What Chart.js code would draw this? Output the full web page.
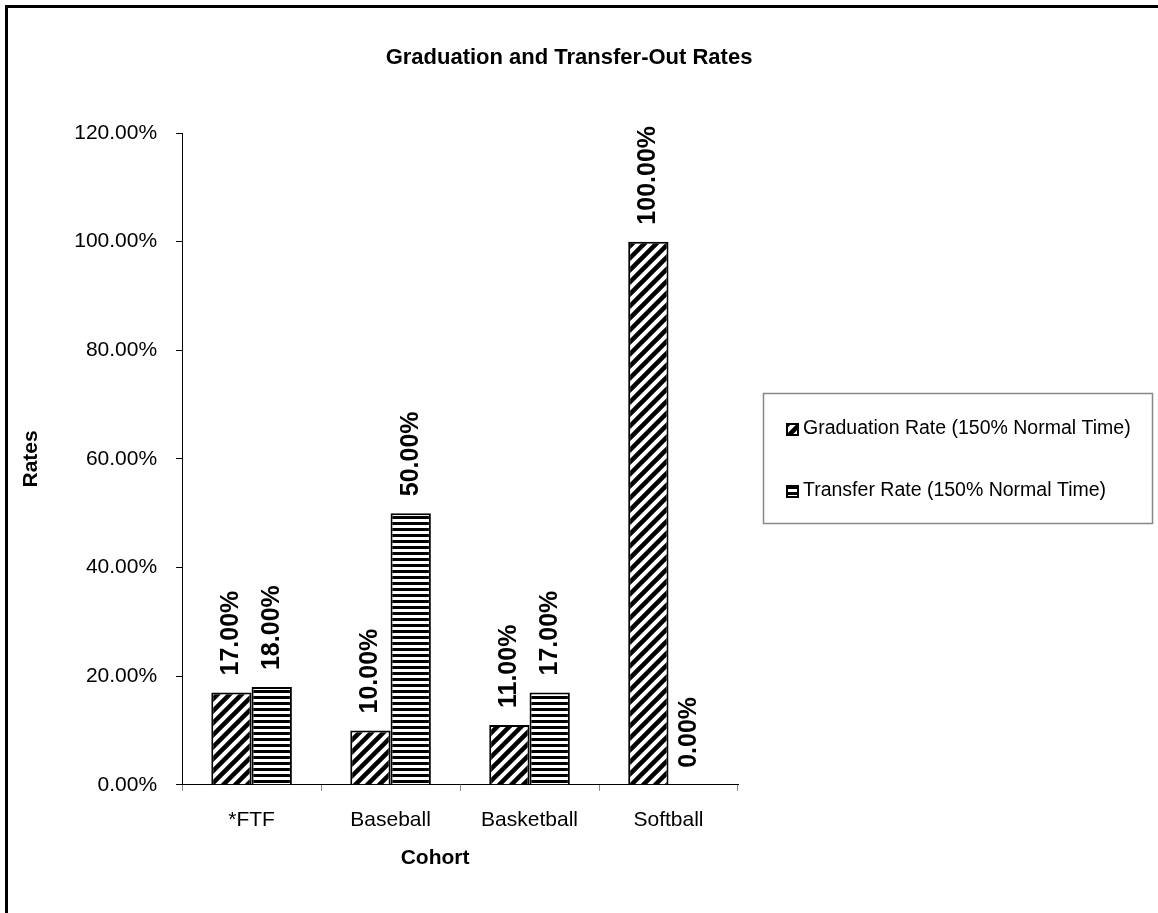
<!DOCTYPE html>
<html>
<head>
<meta charset="utf-8">
<title>Graduation and Transfer-Out Rates</title>
<script src="https://cdn.jsdelivr.net/npm/chart.js@4.4.1/dist/chart.umd.min.js"></script>
<style>
  html, body { margin: 0; padding: 0; background: #fff; }
  #wrap { width: 1158px; height: 913px; }
</style>
</head>
<body>
<div id="wrap"><canvas id="barchart" width="1158" height="913"></canvas></div>
<script>
// chart data
const cohorts = ['*FTF', 'Baseball', 'Basketball', 'Softball'];
const graduationRates = [17, 10, 11, 100];
const transferRates = [18, 50, 17, 0];
const seriesNames = ['Graduation Rate (150% Normal Time)', 'Transfer Rate (150% Normal Time)'];
const yTicks = [0, 20, 40, 60, 80, 100, 120];

const FONT = '"Liberation Sans", Arial, sans-serif';

// hatch fills like the old excel patterns
function diagonalPattern() {
    var s = 12;
    var c = document.createElement('canvas');
    c.width = s; c.height = s;
    var g = c.getContext('2d');
    g.fillStyle = '#fff';
    g.fillRect(0, 0, s, s);
    g.strokeStyle = '#000';
    g.lineWidth = 4.5;
    g.beginPath();
    g.moveTo(-s / 2, s / 2); g.lineTo(s / 2, -s / 2);
    g.moveTo(0, s); g.lineTo(s, 0);
    g.moveTo(s / 2, s * 1.5); g.lineTo(s * 1.5, s / 2);
    g.stroke();
    return g.createPattern(c, 'repeat');
}

function horizontalPattern() {
    var c = document.createElement('canvas');
    c.width = 6; c.height = 6;
    var g = c.getContext('2d');
    g.fillStyle = '#fff';
    g.fillRect(0, 0, 6, 6);
    g.fillStyle = '#000';
    g.fillRect(0, 0, 6, 3);
    return g.createPattern(c, 'repeat');
}

const fills = [diagonalPattern(), horizontalPattern()];

function pct(v) {
    return v.toFixed(2) + '%';
}

// white page, frame, title, x axis title and legend box
const decorations = {
    id: 'decorations',
    beforeDraw(chart) {
        var ctx = chart.ctx;
        ctx.save();
        ctx.fillStyle = '#fff';
        ctx.fillRect(0, 0, chart.width, chart.height);
        ctx.strokeStyle = '#000';
        ctx.lineWidth = 3;
        ctx.beginPath();
        ctx.moveTo(6.5, chart.height + 5);
        ctx.lineTo(6.5, 6.5);
        ctx.lineTo(chart.width + 5, 6.5);
        ctx.stroke();

        ctx.fillStyle = '#000';
        ctx.font = 'bold 22px ' + FONT;
        ctx.textAlign = 'center';
        ctx.textBaseline = 'middle';
        ctx.fillText('Graduation and Transfer-Out Rates', 569, 58);

        // excel had the axis title nudged a bit left of centre
        var area = chart.chartArea;
        ctx.font = 'bold 21px ' + FONT;
        ctx.fillText('Cohort', (area.left + area.right) / 2 - 25, 858);
        ctx.restore();
    },
    afterDraw(chart) {
        var ctx = chart.ctx;
        ctx.save();
        ctx.strokeStyle = '#888';
        ctx.lineWidth = 1.5;
        ctx.strokeRect(763.5, 393.5, 389, 130);
        ctx.font = '19.5px ' + FONT;
        ctx.textAlign = 'left';
        ctx.textBaseline = 'middle';
        var rows = [429, 491];
        chart.data.datasets.forEach(function(ds, i) {
            var y = rows[i];
            ctx.fillStyle = ds.backgroundColor;
            ctx.fillRect(787, y - 5, 11, 11);
            ctx.strokeStyle = '#000';
            ctx.lineWidth = 2;
            ctx.strokeRect(787, y - 5, 11, 11);
            ctx.fillStyle = '#000';
            ctx.fillText(ds.label, 803, y);
        });
        ctx.restore();
    }
};

// rotated value labels above each bar
const barLabels = {
    id: 'barLabels',
    afterDatasetsDraw(chart) {
        var ctx = chart.ctx;
        ctx.save();
        ctx.fillStyle = '#000';
        ctx.font = 'bold 25px ' + FONT;
        ctx.textAlign = 'left';
        ctx.textBaseline = 'middle';
        chart.data.datasets.forEach(function(ds, i) {
            var meta = chart.getDatasetMeta(i);
            meta.data.forEach(function(bar, j) {
                ctx.save();
                ctx.translate(bar.x, bar.y - 17);
                ctx.rotate(-Math.PI / 2);
                ctx.fillText(pct(ds.data[j]), 0, 0);
                ctx.restore();
            });
        });
        ctx.restore();
    }
};

var ctx = document.getElementById('barchart').getContext('2d');
var myChart = new Chart(ctx, {
    type: 'bar',
    data: {
        labels: cohorts,
        datasets: [{
            label: seriesNames[0],
            data: graduationRates,
            backgroundColor: fills[0],
            borderColor: '#000',
            borderWidth: 2
        }, {
            label: seriesNames[1],
            data: transferRates,
            backgroundColor: fills[1],
            borderColor: '#000',
            borderWidth: 2
        }]
    },
    options: {
        responsive: false,
        animation: false,
        events: [],
        layout: {
            padding: { left: 19, right: 420, top: 133, bottom: 63 }
        },
        datasets: {
            bar: { categoryPercentage: 0.58, barPercentage: 1 }
        },
        plugins: {
            legend: { display: false },
            title: { display: false },
            tooltip: { enabled: false }
        },
        scales: {
            x: {
                offset: true,
                grid: {
                    offset: true,
                    drawOnChartArea: false,
                    drawTicks: true,
                    tickLength: 6,
                    color: '#888'
                },
                border: { color: '#000', width: 1 },
                ticks: {
                    color: '#000',
                    padding: 17,
                    font: { family: FONT, size: 21 }
                }
            },
            y: {
                min: yTicks[0],
                max: yTicks[yTicks.length - 1],
                afterBuildTicks: function(axis) {
                    axis.ticks = yTicks.map(function(v) { return { value: v }; });
                },
                grid: {
                    drawOnChartArea: false,
                    drawTicks: true,
                    tickLength: 6,
                    color: '#000'
                },
                border: { color: '#000', width: 1 },
                ticks: {
                    color: '#000',
                    padding: 19,
                    font: { family: FONT, size: 21 },
                    callback: function(v) { return pct(v); }
                },
                title: {
                    display: true,
                    text: 'Rates',
                    color: '#000',
                    font: { family: FONT, size: 21, weight: 'bold' },
                    padding: { top: 0, bottom: 11 }
                }
            }
        }
    },
    plugins: [decorations, barLabels]
});
</script>
</body>
</html>
